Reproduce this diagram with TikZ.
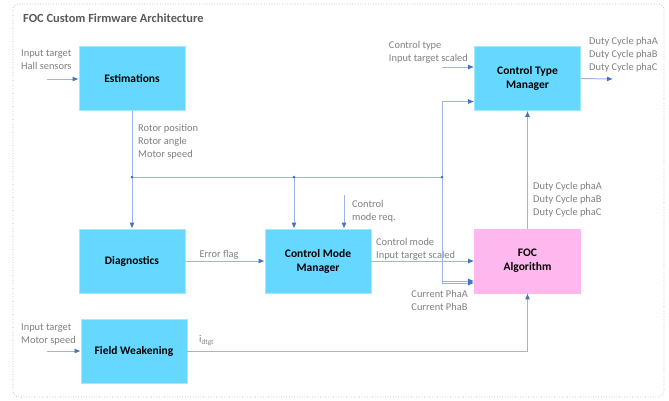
\documentclass[tikz,border=0pt]{standalone}
\usepackage{fontspec}
\setmainfont{Carlito}
\usetikzlibrary{arrows.meta}
\definecolor{boxcyan}{HTML}{66D8FF}
\definecolor{boxpink}{HTML}{FFB8EE}
\definecolor{wire}{HTML}{9DB4E6}
\definecolor{tipblue}{HTML}{4472C4}
\definecolor{labelgray}{HTML}{7F7F7F}
\definecolor{titlegray}{HTML}{595959}
\tikzset{
  blk/.style={draw=boxcyan!60, line width=0.6pt, fill=boxcyan, minimum width=106pt, minimum height=64pt,
    inner sep=0pt, align=center, font=\fontsize{11.5}{14}\selectfont\bfseries, text=black},
  pinkblk/.style={blk, fill=boxpink, draw=boxpink},
  lbl/.style={inner sep=0pt, align=left, text=labelgray, font=\fontsize{10.4}{13}\selectfont},
  wireline/.style={draw=wire, line width=1pt},
  arr/.style={wireline, -{Latex[length=6pt,width=5pt,color=tipblue]}},
  junction/.style={circle, fill=tipblue, inner sep=0pt, minimum size=3pt},
}
\begin{document}
\begin{tikzpicture}[x=1pt, y=-1pt]
\useasboundingbox (0,0) rectangle (669,400);
% outer frame
\draw[labelgray!70, dotted, line width=0.6pt, rounded corners=6pt] (13,4) rectangle (664,397);
\node[anchor=west, inner sep=0pt, text=titlegray, font=\fontsize{12.4}{14}\selectfont\bfseries] (title) at (23,18) {FOC Custom Firmware Architecture};

% blocks
\node[blk] (est) at (132,78.5) {Estimations};
\node[blk] (diag) at (132,261) {Diagnostics};
\node[blk] (cmm) at (318,261) {Control Mode\\Manager};
\node[blk] (ctm) at (527.5,78.5) {Control Type\\Manager};
\node[pinkblk] (foc) at (527.5,261) {FOC\\Algorithm};
\node[blk] (fw) at (134,351) {Field Weakening};

% free ends and bus points
\coordinate (estin) at (47,79);
\coordinate (fwin) at (47,351);
\coordinate (ctmin) at (442,67);
\coordinate (ctmout) at (613,79);
\coordinate (cmmreq) at (344,195);
\coordinate (curin) at (442,281);
\coordinate (j1) at (132,177);
\coordinate (j2) at (294,177);
\coordinate (j3) at (442,177);

% signal labels
\node[lbl, anchor=north west] (l1) at (21,49.5) {Input target\\Hall sensors};
\node[lbl, anchor=north west] (l2) at (21,323.5) {Input target\\Motor speed};
\node[lbl, anchor=north west] (l3) at (138,124.5) {Rotor position\\Rotor angle\\Motor speed};
\node[lbl, anchor=north east] (l4) at (468,41.5) {Control type\\Input target scaled};
\node[lbl, anchor=north west] (l5) at (589,37) {Duty Cycle phaA\\Duty Cycle phaB\\Duty Cycle phaC};
\node[lbl, anchor=north west] (l6) at (533,182.5) {Duty Cycle phaA\\Duty Cycle phaB\\Duty Cycle phaC};
\node[lbl, anchor=north west] (l7) at (352,200) {Control\\mode req.};
\node[lbl, anchor=south] (l8) at (219,259) {Error flag};
\node[lbl, anchor=north west] (l9) at (376,238.5) {Control mode\\Input target scaled};
\node[lbl, anchor=north east] (l10) at (468,290.5) {Current PhaA\\Current PhaB};
\node[lbl, anchor=south west] (l11) at (199,346) {i\textsubscript{dtgt}};

% connectors
\draw[arr] (estin) -- (est.west |- estin);
\draw[arr] (fwin) -- (fw.west |- fwin);
\draw[arr] (est.south) -- (diag.north);
\draw[wireline] (j1) -- (j3);
\draw[arr] (j2) -- (cmm.north -| j2);
\draw[arr] (j3) |- ([yshift=-23pt]ctm.west);
\draw[arr] (j3) |- ([yshift=-22pt]foc.west);
\draw[arr] (ctmin) -- (ctm.west |- ctmin);
\draw[arr] (ctm.east) -- (ctmout);
\draw[arr] (foc.north) -- (ctm.south);
\draw[arr] (diag.east) -- (cmm.west);
\draw[arr] (cmm.east) -- (foc.west);
\draw[arr] (cmmreq) -- (cmm.north -| cmmreq);
\draw[arr] (curin) -- (foc.west |- curin);
\draw[arr] (fw.east) -| (foc.south);

% bus junctions
\node[junction] (d1) at (j1) {};
\node[junction] (d2) at (j2) {};
\node[junction] (d3) at (j3) {};
\end{tikzpicture}
\end{document}
